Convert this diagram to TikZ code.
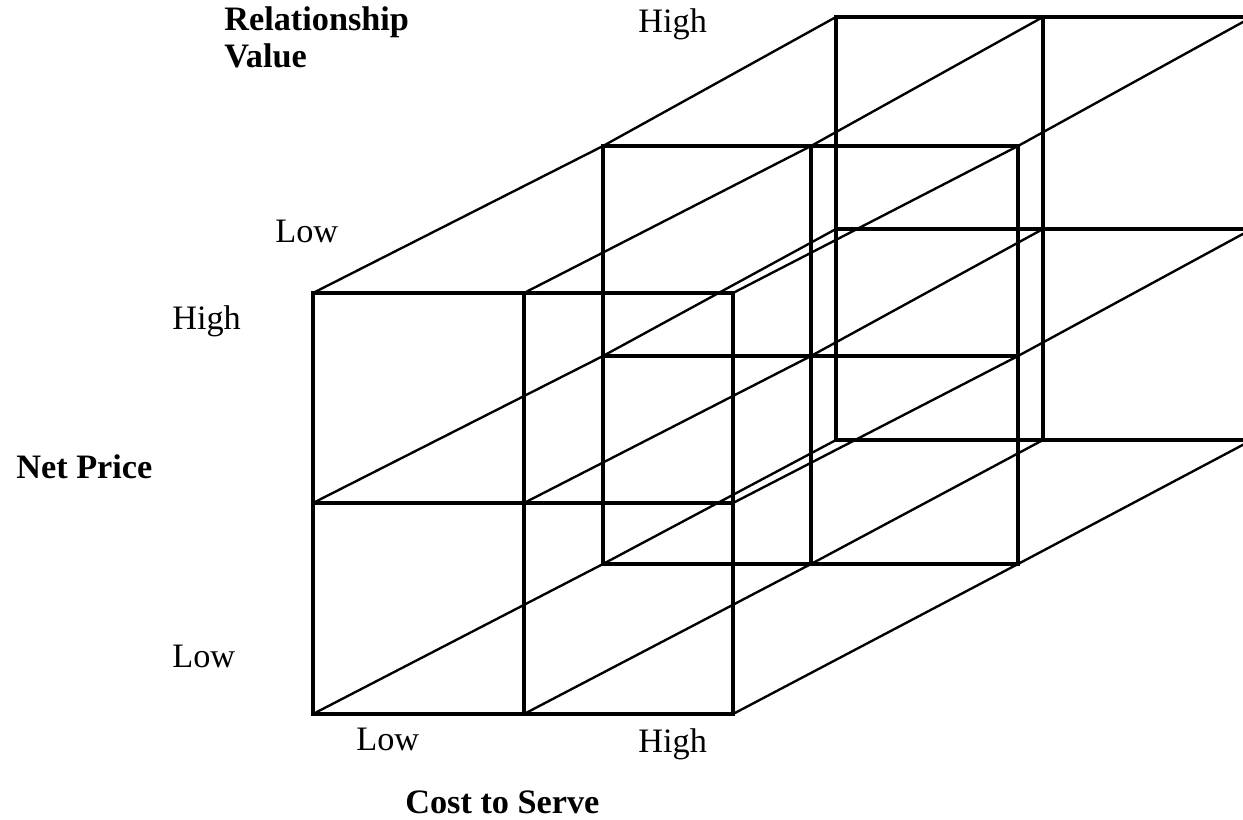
\documentclass[tikz,border=0pt]{standalone}
\usepackage{fontspec}
\setmainfont{Liberation Serif}

\tikzset{
  slice/.style={line width=2pt},
  depthline/.style={line width=1.35pt},
  lbl/.style={anchor=base west, inner sep=0pt, font=\fontsize{19.5}{22}\selectfont},
  axislbl/.style={lbl, font=\fontsize{19.5}{22}\selectfont\bfseries}
}

\begin{document}
\begin{tikzpicture}[x=0.02cm, y=-0.02cm]
  \useasboundingbox (0,0) rectangle (1243,820);
  \clip (0,0) rectangle (1243,820);
  % three slices: front, middle, back
  \foreach \s/\l/\m/\r/\t/\c/\b in {f/313/524/733/293/503/714, m/603/811/1018/146/356/564, b/836/1043/1252/17/229/440} {
    \draw[slice] (\l,\t) rectangle (\r,\b);
    \draw[slice] (\m,\t) -- (\m,\b) (\l,\c) -- (\r,\c);
    \foreach \i/\xx in {1/\l, 2/\m, 3/\r}
      \foreach \j/\yy in {1/\t, 2/\c, 3/\b}
        \coordinate (\s\i\j) at (\xx,\yy);
  }
  % depth lines through the slices
  \foreach \i in {1,2,3}
    \foreach \j in {1,2,3}
      \draw[depthline] (f\i\j) -- (m\i\j) -- (b\i\j);

  \node[axislbl] (relval) at (224,31) {Relationship};
  \node[axislbl] (relvalb) at (224,68) {Value};
  \node[lbl] (rvhigh) at (638,33) {High};
  \node[lbl] (rvlow) at (275,243) {Low};
  \node[axislbl] (netprice) at (16,478) {Net Price};
  \node[lbl] (nphigh) at (172,330) {High};
  \node[lbl] (nplow) at (172,667) {Low};
  \node[lbl] (cslow) at (356,750) {Low};
  \node[lbl] (cshigh) at (638,752) {High};
  \node[axislbl] (cost) at (405,813) {Cost to Serve};
\end{tikzpicture}
\end{document}
